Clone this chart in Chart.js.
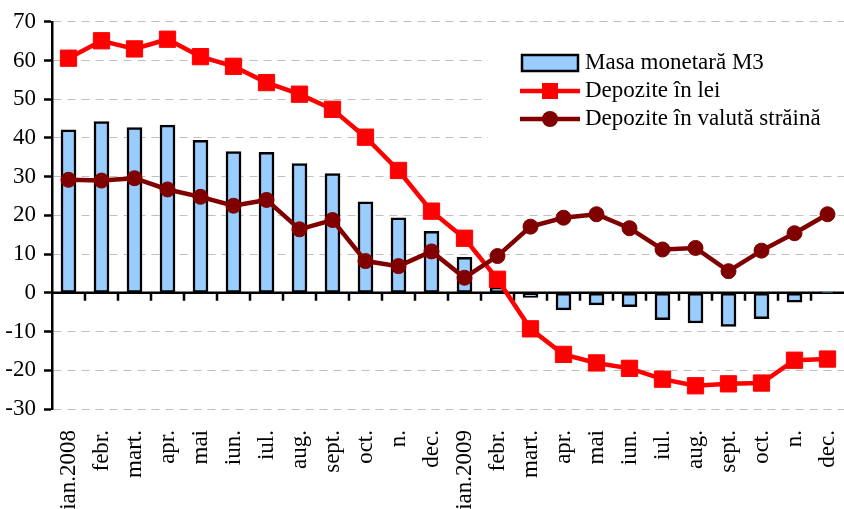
<!DOCTYPE html>
<html>
<head>
<meta charset="utf-8">
<script src="https://cdn.jsdelivr.net/npm/chart.js@4.4.1/dist/chart.umd.min.js"></script>
<style>
  html, body { margin: 0; padding: 0; background: #fff; }
  #wrap { width: 844px; height: 509px; }
</style>
</head>
<body>
<div id="wrap"><canvas id="chart" width="844" height="509"></canvas></div>
<script>
const months = ['ian.2008', 'febr.', 'mart.', 'apr.', 'mai', 'iun.', 'iul.', 'aug.', 'sept.', 'oct.', 'n.', 'dec.',
                'ian.2009', 'febr.', 'mart.', 'apr.', 'mai', 'iun.', 'iul.', 'aug.', 'sept.', 'oct.', 'n.', 'dec.'];
const masaM3 = [42.1, 44.2, 42.7, 43.3, 39.4, 36.5, 36.3, 33.4, 30.8, 23.5, 19.4, 15.9,
                9.2, 1.4, -1.2, -4.4, -3.1, -3.6, -6.9, -7.8, -8.7, -6.7, -2.4, 0.2];
const depoziteLei = [60.6, 65.1, 63.0, 65.5, 61.0, 58.5, 54.3, 51.3, 47.4, 40.2, 31.6, 21.1,
                     14.1, 3.5, -9.3, -15.9, -18.1, -19.5, -22.3, -24.0, -23.5, -23.3, -17.4, -17.1];
const depoziteValuta = [29.2, 29.0, 29.6, 26.7, 24.8, 22.5, 24.0, 16.4, 18.8, 8.2, 6.9, 10.7,
                        3.9, 9.5, 17.1, 19.4, 20.3, 16.7, 11.2, 11.6, 5.6, 10.9, 15.4, 20.3];
const yTicks = [-30, -20, -10, 0, 10, 20, 30, 40, 50, 60, 70];

const FONT = "'Liberation Serif', 'Times New Roman', serif";
const BLUE = '#99CCFF';
const RED = '#FF0000';
const DARK = '#800000';

// zero line, x tick marks, and the legend box
const extras = {
  id: 'extras',
  beforeDatasetsDraw(chart) {
    const { ctx, chartArea, scales } = chart;
    const y0 = scales.y.getPixelForValue(0);
    const n = months.length;
    const w = (chartArea.right - chartArea.left) / n;
    ctx.save();
    ctx.strokeStyle = '#000';
    ctx.lineWidth = 2.5;
    ctx.beginPath();
    ctx.moveTo(chartArea.left, y0);
    ctx.lineTo(chartArea.right, y0);
    for (let i = 1; i < n; i++) {
      const x = Math.round(chartArea.left + i * w);
      ctx.moveTo(x, y0);
      ctx.lineTo(x, y0 + 8);
    }
    ctx.stroke();
    ctx.restore();
  },
  afterDatasetsDraw(chart) {
    const { ctx } = chart;
    ctx.save();
    ctx.fillStyle = '#fff';
    ctx.fillRect(488, 42, 356, 96);

    // bar swatch
    ctx.fillStyle = BLUE;
    ctx.fillRect(522, 55, 56, 16);
    ctx.strokeStyle = '#000';
    ctx.lineWidth = 2.5;
    ctx.strokeRect(522, 55, 56, 16);

    // red line + square
    ctx.strokeStyle = RED;
    ctx.lineWidth = 4.5;
    ctx.beginPath(); ctx.moveTo(520, 91); ctx.lineTo(580, 91); ctx.stroke();
    ctx.fillStyle = RED;
    ctx.fillRect(542, 83, 16, 16);

    // dark red line + circle
    ctx.strokeStyle = DARK;
    ctx.beginPath(); ctx.moveTo(520, 119); ctx.lineTo(580, 119); ctx.stroke();
    ctx.fillStyle = DARK;
    ctx.beginPath(); ctx.arc(550, 119, 8, 0, Math.PI * 2); ctx.fill();

    ctx.fillStyle = '#000';
    ctx.font = '23px ' + FONT;
    ctx.textBaseline = 'middle';
    ctx.textAlign = 'left';
    ctx.fillText('Masa monetară M3', 585, 63);
    ctx.fillText('Depozite în lei', 585, 91);
    ctx.fillText('Depozite în valută străină', 585, 119);
    ctx.restore();
  }
};

const ctx = document.getElementById('chart').getContext('2d');
new Chart(ctx, {
  data: {
    labels: months,
    datasets: [
      {
        type: 'line',
        label: 'Depozite în valută străină',
        data: depoziteValuta,
        borderColor: DARK,
        backgroundColor: DARK,
        borderWidth: 4.5,
        pointStyle: 'circle',
        pointRadius: 7.5,
        pointBorderWidth: 1,
        tension: 0,
        clip: false,
        order: 1
      },
      {
        type: 'line',
        label: 'Depozite în lei',
        data: depoziteLei,
        borderColor: RED,
        backgroundColor: RED,
        borderWidth: 4.5,
        pointStyle: 'rect',
        pointRadius: 11.5,
        pointBorderWidth: 1,
        tension: 0,
        clip: false,
        order: 2
      },
      {
        type: 'bar',
        label: 'Masa monetară M3',
        data: masaM3,
        backgroundColor: BLUE,
        borderColor: '#000',
        borderWidth: 2.5,
        borderSkipped: false,
        barThickness: 15,
        order: 3
      }
    ]
  },
  options: {
    responsive: false,
    animation: false,
    layout: { autoPadding: false, padding: { top: 6, right: -4, left: 0, bottom: 0 } },
    plugins: {
      legend: { display: false },
      tooltip: { enabled: false }
    },
    scales: {
      x: {
        offset: true,
        grid: { display: false, drawTicks: false },
        border: { display: false },
        ticks: {
          color: '#000',
          font: { family: FONT, size: 23 },
          minRotation: 90,
          maxRotation: 90,
          autoSkip: false,
          padding: 21
        },
        afterFit(scale) {
          scale.height = 100;
          scale.paddingLeft = 0;
          scale.paddingRight = 0;
        }
      },
      y: {
        min: -30,
        max: 70,
        afterBuildTicks(scale) { scale.ticks = yTicks.map(v => ({ value: v })); },
        grid: {
          color: '#C0C0C0',
          lineWidth: 1,
          drawTicks: true,
          tickLength: 8,
          tickColor: '#000',
          tickWidth: 2.5
        },
        border: { display: true, color: '#000', width: 2.5, dash: [8, 6] },
        ticks: {
          color: '#000',
          font: { family: FONT, size: 23 },
          padding: 8
        },
        afterFit(scale) { scale.width = 52; }
      }
    }
  },
  plugins: [extras]
});
</script>
</body>
</html>
